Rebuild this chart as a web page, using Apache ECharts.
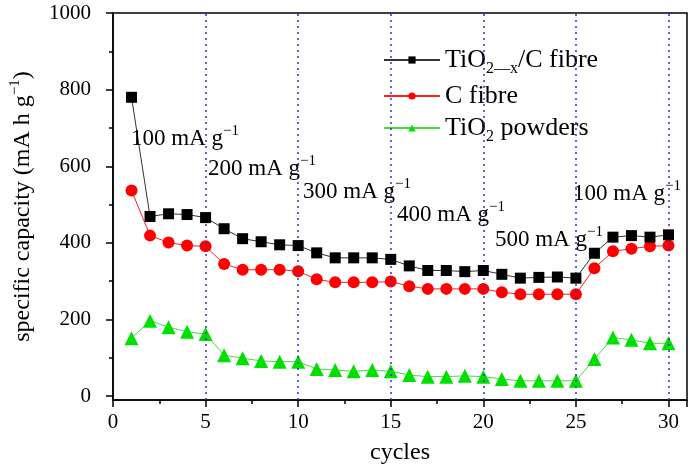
<!DOCTYPE html>
<html><head><meta charset="utf-8">
<script src="https://cdn.jsdelivr.net/npm/echarts@6/dist/echarts.min.js"></script>
<style>html,body{margin:0;padding:0;background:#fff}#c{width:689px;height:466px}</style>
</head><body><div id="c"></div>
<script>
const cycles = [1,2,3,4,5,6,7,8,9,10,11,12,13,14,15,16,17,18,19,20,21,22,23,24,25,26,27,28,29,30];
const tio2xC = [780,469,476,474,466,437,411,403,395,393,374,361,361,361,357,340,328,328,325,328,318,308,310,311,308,373,415,419,415,421];
const cFibre = [537,419,401,393,391,345,330,330,330,326,305,297,297,297,299,287,280,280,280,280,271,266,266,266,266,334,378,385,391,393];
const tio2Powder = [151,197,180,168,162,107,99,92,90,90,71,68,65,68,65,55,51,51,53,51,45,40,40,40,40,97,153,147,138,138];
const yMajor = [0,200,400,600,800,1000];
const yMinor = [100,300,500,700,900];
const rateBoundaries = [5,10,15,20,25,30];
const rateLabels = ['100','200','300','400','500','100'];
const seriesNames = ['TiO2-x/C fibre','C fibre','TiO2 powders'];

const FONT = 'Liberation Serif';
const chart = echarts.init(document.getElementById('c'));
const annPos = [[131,137],[208,167],[303,190],[397,213],[495,238],[573,192]];
const graphics = rateLabels.map((r,i)=>({
  type:'text', x: annPos[i][0], y: annPos[i][1], z: 10,
  style:{text: '{b|' + r + ' mA g}{sup|−1}', fontSize: 23, fontFamily: FONT, fill:'#000',
    verticalAlign:'middle', align:'left',
    rich:{
      b:{fontSize:23, fontFamily:FONT, fill:'#000', lineHeight:26, verticalAlign:'bottom'},
      sup:{fontSize:15, fontFamily:FONT, fill:'#000', verticalAlign:'top', lineHeight:24}}}
}));

const legendLabels = {
  'TiO2-x/C fibre': 'TiO{sub|2—x}/C fibre',
  'C fibre': 'C fibre',
  'TiO2 powders': 'TiO{sub|2} powders'
};

chart.setOption({
  animation:false,
  grid:{left:113, right:2, top:13, bottom:66, show:true, borderColor:'#000', borderWidth:1.5, backgroundColor:'transparent', outerBoundsMode:'none', containLabel:false},
  legend:{
    orient:'vertical', left:378, top:42, itemWidth:56, itemHeight:9, itemGap:6,
    data: seriesNames,
    formatter: n => legendLabels[n],
    textStyle:{fontSize:26, fontFamily:FONT, color:'#000', rich:{
      sub:{fontSize:16, fontFamily:FONT, color:'#000', verticalAlign:'bottom', lineHeight: 34}
    }}
  },
  xAxis:{
    type:'value', min:0, max:31, interval:5,
    name:'cycles', nameLocation:'middle', nameGap:41,
    nameTextStyle:{fontSize:24, fontFamily:FONT, color:'#000'},
    axisLine:{onZero:false, lineStyle:{color:'#000', width:1.5}},
    axisTick:{inside:false, length:7, lineStyle:{color:'#000', width:1.5}},
    minorTick:{show:true, splitNumber:2, length:4, lineStyle:{color:'#000', width:1.5}},
    axisLabel:{fontSize:21, fontFamily:FONT, color:'#000', margin:12, showMaxLabel:false,
      formatter: v => (v<=30 ? String(v) : '')},
    splitLine:{show:false}
  },
  yAxis:[{
    type:'value', min:-10, max:1000,
    name:'{b|specific capacity (mA h g}{sup|−1}{b|)}', nameLocation:'middle', nameGap:78,
    nameTextStyle:{fontSize:24, fontFamily:FONT, color:'#000', rich:{
      b:{fontSize:24, fontFamily:FONT, color:'#000', lineHeight:27, verticalAlign:'bottom'},
      sup:{fontSize:15, fontFamily:FONT, color:'#000', verticalAlign:'top', lineHeight:25}}},
    axisLine:{lineStyle:{color:'#000', width:1.5}},
    axisTick:{inside:false, length:7, customValues: yMajor, lineStyle:{color:'#000', width:1.5}},
    axisLabel:{fontSize:21, fontFamily:FONT, color:'#000', margin:22, customValues: yMajor, formatter: v => String(v)},
    splitLine:{show:false}
  },{
    type:'value', min:-10, max:1000, position:'left',
    axisLine:{show:false},
    axisTick:{inside:false, length:4, customValues: yMinor, lineStyle:{color:'#000', width:1.5}},
    axisLabel:{show:false, customValues: yMinor},
    splitLine:{show:false}
  }],
  series:[
    {name:seriesNames[0], type:'line', data: cycles.map((c,i)=>[c,tio2xC[i]]),
      symbol:'rect', symbolSize:11, itemStyle:{color:'#000'}, lineStyle:{color:'#333', width:1}, z:5,
      markLine:{silent:true, symbol:'none', label:{show:false}, lineStyle:{color:'#3030d0', type:[2,4], width:1.5},
        data: rateBoundaries.map(v=>({xAxis:v}))}},
    {name:seriesNames[1], type:'line', data: cycles.map((c,i)=>[c,cFibre[i]]),
      symbol:'circle', symbolSize:12, itemStyle:{color:'#ff0000'}, lineStyle:{color:'#ff2020', width:1}, z:4},
    {name:seriesNames[2], type:'line', data: cycles.map((c,i)=>[c,tio2Powder[i]]),
      symbol:'triangle', symbolSize:14, itemStyle:{color:'#00e000'}, lineStyle:{color:'#40dd40', width:1}, z:3}
  ],
  graphic: graphics
});
</script></body></html>
